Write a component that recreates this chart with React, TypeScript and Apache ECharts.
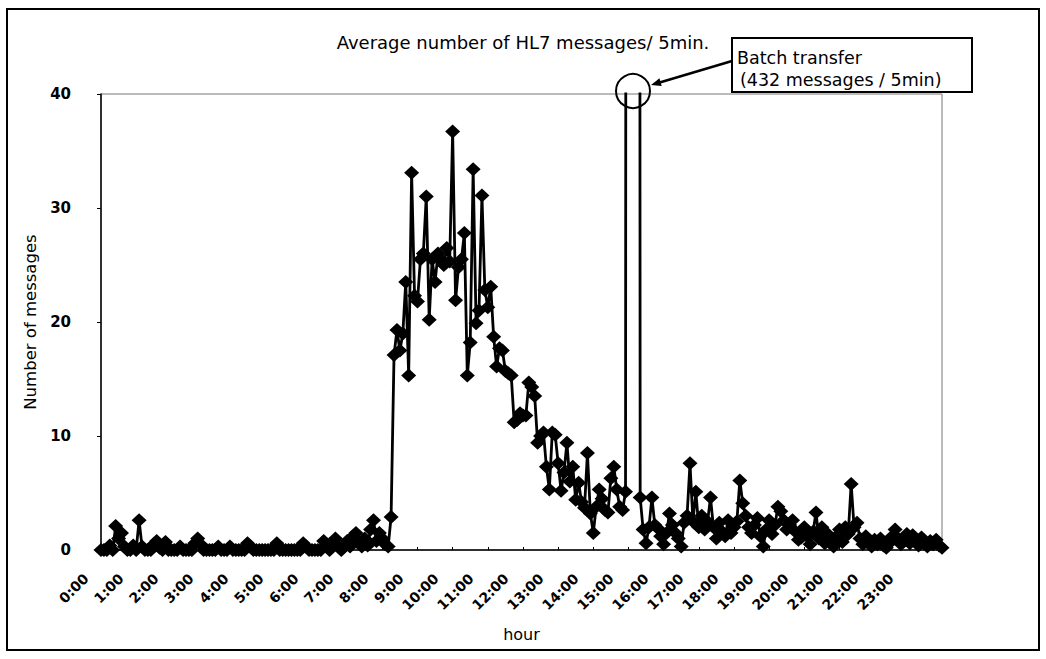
import React, { useEffect, useRef } from "react";
import * as echarts from "echarts";

// 5-minute time slots (categories)
const slotLabels: string[] = [];
for (let i = 0; i < 288; i++) {
  const h = Math.floor(i / 12);
  const m = (i % 12) * 5;
  slotLabels.push(`${h}:${m < 10 ? "0" + m : m}`);
}

// hour tick labels
const hourLabels = [
  "0:00", "1:00", "2:00", "3:00", "4:00", "5:00", "6:00", "7:00",
  "8:00", "9:00", "10:00", "11:00", "12:00", "13:00", "14:00", "15:00",
  "16:00", "17:00", "18:00", "19:00", "20:00", "21:00", "22:00", "23:00",
];

// 0:00 - 8:15
const nightValues = [
  0, 0, 0, 0.4, 0, 2.1, 1.0, 1.5, 0.3, 0,
  0, 0.4, 0, 2.6, 0.3, 0, 0, 0, 0.5, 0.8,
  0.2, 0, 0.7, 0, 0, 0, 0, 0.3, 0, 0,
  0, 0, 0.6, 1.0, 0.5, 0, 0, 0, 0, 0,
  0.3, 0, 0, 0, 0.3, 0, 0, 0, 0, 0,
  0.6, 0.3, 0, 0, 0, 0, 0, 0, 0, 0,
  0.6, 0, 0, 0, 0, 0, 0, 0, 0, 0.6,
  0.3, 0, 0, 0, 0, 0, 0.8, 0.5, 0, 0.4,
  1.0, 0.3, 0, 0.3, 0.8, 0.3, 1.2, 1.5, 0.6, 0.3,
  1.0, 0.4, 1.8, 2.6, 0.8, 1.5, 1.0, 0.5, 0.3, 2.9,
];

// 8:20 - 11:05
const morningValues = [
  17.1, 19.3, 17.5, 19.0, 23.5, 15.3, 33.1, 22.3, 21.8, 25.5,
  26.0, 31.0, 20.2, 25.5, 23.5, 26.0, 25.5, 25.0, 26.5, 25.3,
  36.7, 21.9, 24.8, 25.5, 27.8, 15.3, 18.2, 33.4, 19.9, 21.0,
  31.1, 22.8, 21.3, 23.1,
];

// 11:10 - 14:55
const afternoonValues = [
  18.7, 16.1, 17.7, 17.5, 15.7, 15.5, 15.3, 11.2, 11.4, 12.0,
  11.8, 11.8, 14.7, 14.3, 13.5, 9.4, 10.0, 10.3, 7.3, 5.3,
  10.3, 10.1, 7.6, 5.2, 6.8, 9.4, 6.0, 7.3, 4.4, 5.9,
  4.2, 3.7, 8.5, 3.2, 1.5, 3.8, 5.3, 4.5, 3.5, 3.3,
  6.3, 7.3, 5.3, 3.8, 3.5, 5.1,
];

// 15:00 - 15:15 batch transfer
const batchValues = [432, 432, 432, 432];

// 15:20 - 23:55
const eveningValues = [
  4.6, 1.8, 0.6, 2.0, 4.6, 2.2, 1.9, 1.2, 0.5, 1.5,
  3.2, 2.2, 1.5, 1.0, 0.3, 2.4, 3.0, 7.6, 2.5, 5.1,
  2.0, 3.0, 1.8, 2.5, 4.6, 2.0, 1.0, 2.4, 1.6, 1.2,
  2.6, 1.5, 2.0, 2.5, 6.1, 4.1, 3.0, 2.0, 1.5, 2.2,
  2.8, 1.2, 0.3, 1.8, 2.6, 1.4, 2.2, 3.8, 3.4, 2.6,
  1.8, 2.2, 2.6, 1.6, 0.9, 1.1, 2.0, 1.2, 0.5, 1.6,
  3.3, 1.0, 2.0, 0.6, 1.4, 0.8, 0.3, 1.2, 1.8, 0.7,
  2.0, 1.4, 5.8, 2.0, 2.4, 1.0, 0.5, 1.2, 0.8, 0.3,
  0.9, 0.5, 1.0, 0.4, 0.2, 0.6, 1.2, 1.8, 1.0, 0.5,
  0.8, 1.4, 0.6, 1.3, 0.9, 0.4, 1.1, 0.7, 0.3, 0.8,
  0.5, 0.9, 0.4, 0.2,
];

const messages = [
  ...nightValues,
  ...morningValues,
  ...afternoonValues,
  ...batchValues,
  ...eveningValues,
];

const FONT = "'DejaVu Sans', 'Noto Sans', sans-serif";

export default function App() {
  const ref = useRef<HTMLDivElement | null>(null);

  useEffect(() => {
    if (!ref.current) return;
    const chart = echarts.init(ref.current, undefined, { renderer: "svg" });
    const option: any = {
      animation: false,
      backgroundColor: "#ffffff",
      grid: [
        {
          left: 101,
          right: 104,
          top: 94,
          bottom: 109,
          show: true,
          borderColor: "#777",
          borderWidth: 1,
          backgroundColor: "transparent",
        },
        { left: 86, width: 805, top: 94, bottom: 109, show: false },
      ],
      xAxis: [
        {
          type: "category",
          gridIndex: 0,
          data: slotLabels,
          boundaryGap: false,
          axisLine: { show: true, lineStyle: { color: "#000", width: 1.5 } },
          axisTick: {
            show: true,
            inside: true,
            interval: 11,
            length: 3,
            lineStyle: { color: "#000" },
          },
          axisLabel: { show: false },
          splitLine: { show: false },
          name: "hour",
          nameLocation: "middle",
          nameGap: 76,
          nameTextStyle: { fontFamily: FONT, fontSize: 16, color: "#000" },
        },
        {
          type: "category",
          gridIndex: 1,
          data: hourLabels,
          boundaryGap: false,
          axisLine: { show: false },
          axisTick: { show: false },
          splitLine: { show: false },
          axisLabel: {
            interval: 0,
            rotate: 45,
            margin: 26,
            fontFamily: FONT,
            fontSize: 14,
            fontWeight: "bold",
            color: "#000",
          },
        },
      ],
      yAxis: [
        {
          type: "value",
          gridIndex: 0,
          min: 0,
          max: 40,
          interval: 10,
          axisLine: { show: true, lineStyle: { color: "#000", width: 1.5 } },
          axisTick: { show: true, length: 4, lineStyle: { color: "#000" } },
          splitLine: { show: false },
          axisLabel: {
            margin: 30,
            fontFamily: FONT,
            fontSize: 15,
            fontWeight: "bold",
            color: "#000",
          },
          name: "Number of messages",
          nameLocation: "middle",
          nameGap: 60,
          nameTextStyle: { fontFamily: FONT, fontSize: 16.5, color: "#000" },
        },
        { type: "value", gridIndex: 1, show: false },
      ],
      series: [
        {
          type: "line",
          name: "HL7 messages",
          xAxisIndex: 0,
          yAxisIndex: 0,
          data: messages,
          clip: true,
          symbol: "diamond",
          symbolSize: [15, 14],
          showAllSymbol: true,
          itemStyle: { color: "#000" },
          lineStyle: { color: "#000", width: 2.8 },
        },
      ],
      graphic: [
        {
          type: "rect",
          silent: true,
          z: -10,
          shape: { x: 7, y: 9, width: 1032, height: 641 },
          style: { fill: "none", stroke: "#000", lineWidth: 2 },
        },
        {
          type: "text",
          x: 523,
          y: 42,
          style: {
            text: "Average number of HL7 messages/ 5min.",
            fontFamily: FONT,
            fontSize: 18,
            fill: "#000",
            align: "center",
            verticalAlign: "middle",
          },
        },
        {
          type: "rect",
          shape: { x: 732, y: 38, width: 240, height: 54 },
          style: { fill: "#fff", stroke: "#000", lineWidth: 2 },
        },
        {
          type: "text",
          x: 737,
          y: 58,
          style: {
            text: "Batch transfer",
            fontFamily: FONT,
            fontSize: 17.5,
            fill: "#000",
            align: "left",
            verticalAlign: "middle",
          },
        },
        {
          type: "text",
          x: 740,
          y: 80,
          style: {
            text: "(432 messages / 5min)",
            fontFamily: FONT,
            fontSize: 17.5,
            fill: "#000",
            align: "left",
            verticalAlign: "middle",
          },
        },
        {
          type: "circle",
          shape: { cx: 633, cy: 91, r: 17 },
          style: { fill: "none", stroke: "#000", lineWidth: 2 },
        },
        {
          type: "line",
          shape: { x1: 732, y1: 61, x2: 658, y2: 83 },
          style: { stroke: "#000", lineWidth: 2.5 },
        },
        {
          type: "polygon",
          shape: { points: [[651, 85], [661.7, 86.0], [659.5, 78.3]] },
          style: { fill: "#000" },
        },
      ],
    };
    chart.setOption(option);
    return () => chart.dispose();
  }, []);

  return (
    <div
      ref={ref}
      style={{ position: "fixed", left: 0, top: 0, width: 1046, height: 659 }}
    />
  );
}
